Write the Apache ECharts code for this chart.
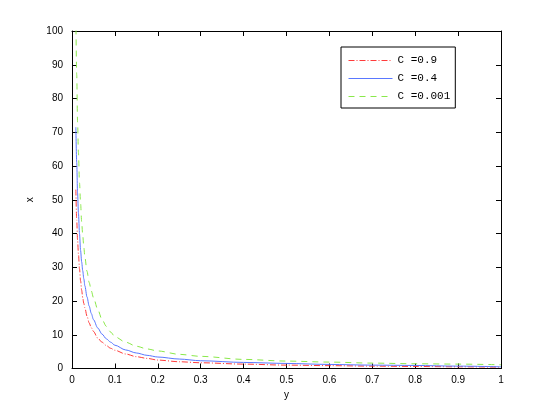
<!DOCTYPE html>
<html>
<head>
<meta charset="utf-8">
<script src="https://cdn.jsdelivr.net/npm/echarts@6/dist/echarts.min.js"></script>
<style>
  html, body { margin: 0; padding: 0; background: #fff; }
  #chart { width: 554px; height: 415px; }
</style>
</head>
<body>
<div id="chart"></div>
<script>
// values
const yValues = [0.009, 0.011, 0.013, 0.015, 0.0175, 0.02, 0.0225, 0.025, 0.0275, 0.03, 0.035, 0.04,
  0.045, 0.05, 0.06, 0.07, 0.08, 0.09, 0.1, 0.125, 0.15, 0.175, 0.2, 0.25, 0.3, 0.4, 0.5,
  0.6, 0.7, 0.8, 0.9, 1.0]
const xC09 = [53, 44, 38, 34, 29.5, 26, 23.2, 21, 19.3, 18, 15.5, 13.5,
  12.1, 11, 9, 7.8, 6.8, 6.0, 5.4, 4.3, 3.5, 3.0, 2.5, 2.0, 1.7, 1.3, 1.0,
  0.85, 0.7, 0.6, 0.5, 0.4]
const xC04 = [71.5, 61, 52, 46, 40, 35, 31.6, 29, 26.6, 24.5, 21.2, 18.5,
  16.3, 14.5, 12, 10.2, 8.8, 7.8, 6.9, 5.5, 4.6, 3.9, 3.4, 2.8, 2.3, 1.8, 1.5,
  1.2, 1.0, 0.9, 0.7, 0.5]
const xC0001 = [104, 87, 73, 64, 55, 49, 43.5, 39.5, 36, 33, 28.8, 25.5,
  23, 21, 17.5, 14.5, 12.5, 10.8, 9.4, 7.8, 6.6, 5.8, 5.2, 4.2, 3.6, 2.7, 2.2,
  1.9, 1.6, 1.4, 1.3, 1.1]
const seriesNames = ['C =0.9', 'C =0.4', 'C =0.001']

const pairs = (vals) => yValues.map((y, i) => [y, vals[i]])

const chart = echarts.init(document.getElementById('chart'))

const labelFont = { color: '#000', fontFamily: 'Liberation Sans, Arial, sans-serif', fontSize: 10 }
const frameLine = { show: true, onZero: false, lineStyle: { color: '#000', width: 1 } }
const innerTick = { show: true, inside: true, length: 5, lineStyle: { color: '#000' } }

const makeLine = (name, vals, color, type) => ({
  name: name,
  type: 'line',
  data: pairs(vals),
  showSymbol: false,
  symbol: 'none',
  smooth: 0.3,
  smoothMonotone: 'x',
  clip: true,
  lineStyle: { color: color, width: 1, type: type },
  itemStyle: { color: color }
})

chart.setOption({
  animation: false,
  backgroundColor: '#fff',
  grid: { left: 72, right: 53, top: 31, bottom: 46.5, containLabel: false },
  legend: {
    orient: 'vertical',
    left: 341,
    top: 47,
    itemWidth: 44,
    itemHeight: 10,
    itemGap: 7,
    padding: [8, 5, 6, 7],
    borderColor: '#000',
    borderWidth: 1,
    backgroundColor: '#fff',
    data: seriesNames,
    itemStyle: { color: 'transparent', borderWidth: 0 },
    lineStyle: { width: 1 },
    textStyle: { color: '#000', fontFamily: 'Liberation Mono, DejaVu Sans Mono, monospace', fontSize: 11 }
  },
  xAxis: [
    {
      type: 'value', min: 0, max: 1, interval: 0.1,
      name: 'y', nameLocation: 'middle', nameGap: 20,
      nameTextStyle: labelFont,
      axisLine: frameLine, axisTick: innerTick,
      axisLabel: Object.assign({ margin: 7, formatter: (v) => String(+v.toFixed(1)) }, labelFont),
      splitLine: { show: false }
    },
    {
      type: 'value', min: 0, max: 1, interval: 0.1, position: 'top',
      axisLine: frameLine, axisTick: innerTick,
      axisLabel: { show: false }, splitLine: { show: false }
    }
  ],
  yAxis: [
    {
      type: 'value', min: 0, max: 100, interval: 10,
      name: 'x', nameLocation: 'middle', nameGap: 32, nameRotate: 90,
      nameTextStyle: labelFont,
      axisLine: frameLine, axisTick: innerTick,
      axisLabel: Object.assign({ margin: 9 }, labelFont),
      splitLine: { show: false }
    },
    {
      type: 'value', min: 0, max: 100, interval: 10, position: 'right',
      axisLine: frameLine, axisTick: innerTick,
      axisLabel: { show: false }, splitLine: { show: false }
    }
  ],
  series: [
    makeLine(seriesNames[0], xC09, '#ff3b3b', [6, 2, 1, 2]),
    makeLine(seriesNames[1], xC04, '#5a78ff', 'solid'),
    makeLine(seriesNames[2], xC0001, '#8ae84a', [6, 5])
  ]
})
</script>
</body>
</html>
